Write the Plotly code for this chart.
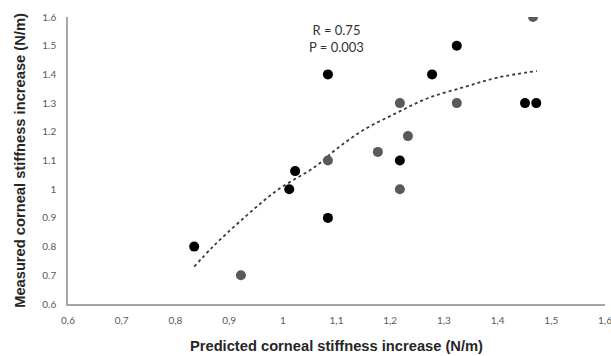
import plotly.graph_objects as go

# Data
black_x = [0.835, 1.012, 1.023, 1.084, 1.084, 1.218, 1.278, 1.324, 1.451, 1.472]
black_y = [0.80, 1.00, 1.063, 1.40, 0.90, 1.10, 1.40, 1.50, 1.30, 1.30]

gray_x = [0.922, 1.084, 1.177, 1.218, 1.218, 1.233, 1.324, 1.466]
gray_y = [0.70, 1.10, 1.13, 1.00, 1.30, 1.185, 1.30, 1.60]

trend_x = [0.835, 0.87, 0.93, 0.99, 1.06, 1.10, 1.15, 1.21, 1.27, 1.34, 1.40, 1.473]
trend_y = [0.73, 0.80, 0.904, 0.997, 1.078, 1.14, 1.206, 1.264, 1.317, 1.357, 1.389, 1.412]

tick_vals = [0.6, 0.7, 0.8, 0.9, 1.0, 1.1, 1.2, 1.3, 1.4, 1.5, 1.6]
x_tick_text = ["0,6", "0,7", "0,8", "0,9", "1", "1,1", "1,2", "1,3", "1,4", "1,5", "1,6"]
y_tick_text = ["0.6", "0.7", "0.8", "0.9", "1", "1.1", "1.2", "1.3", "1.4", "1.5", "1.6"]

fig = go.Figure()
fig.add_trace(go.Scatter(x=trend_x, y=trend_y, mode="lines",
                         line=dict(color="#3a3a3a", width=1.8, dash="dot", shape="spline"),
                         hoverinfo="skip", showlegend=False))
fig.add_trace(go.Scatter(x=gray_x, y=gray_y, mode="markers",
                         marker=dict(color="#5a5a5a", size=10), showlegend=False))
fig.add_trace(go.Scatter(x=black_x, y=black_y, mode="markers",
                         marker=dict(color="#000000", size=10), showlegend=False))

fig.add_annotation(x=0.5, xref="paper", y=1.6, yref="y", xanchor="center", yanchor="top",
                   yshift=-3,
                   text="R = 0.75<br>P = 0.003", showarrow=False, align="center",
                   font=dict(family="Lato", size=13, color="#333333"))

fig.update_layout(
    width=611, height=356,
    margin=dict(l=68, r=6, t=17, b=52),
    plot_bgcolor="white", paper_bgcolor="white",
    xaxis=dict(range=[0.6, 1.6], tickvals=tick_vals, ticktext=x_tick_text, automargin=False,
               showgrid=False, zeroline=False, showline=True, linecolor="#a6a6a6", linewidth=1.5,
               ticks="", ticklabelstandoff=6, ticklabeloverflow="allow",
               tickfont=dict(family="Lato", size=10, color="#595959"),
               title=dict(text="<b>Predicted corneal stiffness increase (N/m)</b>",
                          font=dict(family="Liberation Sans", size=14.7, color="#262626"), standoff=16)),
    yaxis=dict(range=[0.6, 1.6], tickvals=tick_vals, ticktext=y_tick_text, automargin=False,
               showgrid=False, zeroline=False, showline=True, linecolor="#a6a6a6", linewidth=1.5,
               ticks="", ticklabelstandoff=8, ticklabeloverflow="allow",
               tickfont=dict(family="Lato", size=10, color="#595959"),
               title=dict(text="<b>Measured corneal stiffness increase (N/m)</b>",
                          font=dict(family="Liberation Sans", size=14.7, color="#262626"), standoff=13)),
)

fig.write_html("out.html")
